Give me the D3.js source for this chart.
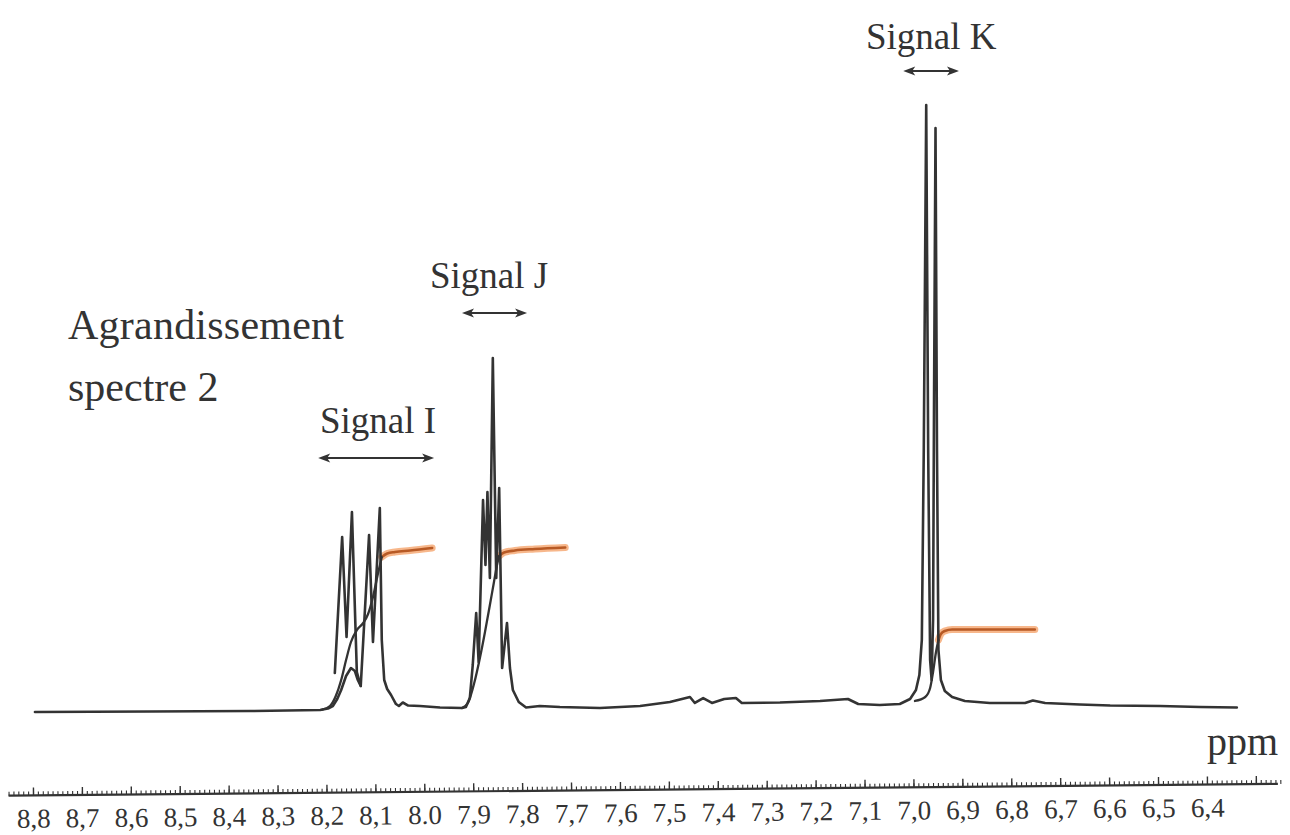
<!DOCTYPE html>
<html><head><meta charset="utf-8">
<script src="https://cdn.jsdelivr.net/npm/d3@7"></script>
<style>html,body{margin:0;padding:0;background:#fff;} svg{display:block;}</style>
</head><body>
<svg id="c" width="1290" height="835"></svg>
<script>
// ---- data (ppm, relative intensity) ----
const spectrumPpm = [8.796,8.561,8.356,8.213,8.197,8.187,8.178,8.170,8.160,8.150,8.142,8.136,8.130,8.113,8.105,8.091,8.087,8.082,8.076,8.068,8.058,8.052,8.044,8.033,8.009,7.968,7.923,
 7.915,7.907,7.901,7.894,7.889,7.880,7.875,7.871,7.866,7.860,7.853,7.847,7.841,7.831,7.825,7.819,7.807,7.792,7.764,7.723,7.641,7.559,7.498,7.457,7.447,7.430,7.412,7.387,7.363,7.351,7.273,7.191,7.134,7.113,7.069,7.028,7.007,6.995,6.988,6.983,6.979,6.974,6.970,6.966,6.963,6.960,6.958,6.955,6.952,6.949,6.944,6.936,6.921,6.895,6.844,6.772,6.756,6.731,6.660,6.598,6.496,6.414,6.339];
const spectrumInt = [-0.33,-0.25,-0.17,0,0.25,0.66,1.82,3.31,5.62,6.94,6.45,4.96,3.97,28.93,11.24,33.39,11.57,4.96,3.47,2.48,0.99,0.66,1.24,0.74,0.66,0.41,0.33,
 0.5,1.98,7.44,16.03,7.93,34.71,23.97,36.03,21.82,58.18,21.82,36.69,6.94,14.38,6.94,3.31,1.32,0.41,0.66,0.5,0.33,0.66,1.32,2.15,1.16,1.98,1.16,1.82,1.98,1.16,1.24,1.49,1.82,0.99,0.83,0.99,1.82,3.31,5.79,11.57,42.98,100,42.98,8.26,4.96,14.88,51.24,96.2,42.98,9.92,4.96,3.14,2.15,1.49,1.16,1.16,1.57,1.16,0.91,0.74,0.66,0.5,0.41];
// overlaid pen stroke of the first multiplet (signal I)
const overlayPpm = [8.183,8.168,8.159,8.148,8.138,8.130];
const overlayInt = [6.12,28.6,12.07,32.73,6.28,3.97];
// integration curves: black rising part, then orange plateau
const integIPpm = [8.209,8.193,8.181,8.170,8.160,8.150,8.138,8.125,8.115,8.105,8.095,8.087];
const integIVal = [0.08,0.66,2.31,4.96,8.26,11.24,13.22,14.38,15.87,18.68,22.48,25.29];
const plateauIPpm = [8.087,8.076,8.060,8.029,7.984];
const plateauIVal = [25.29,25.87,26.12,26.36,26.78];
const integJPpm = [7.923,7.911,7.898,7.886,7.876,7.866,7.858,7.851,7.847];
const integJVal = [0.33,1.16,4.46,8.76,12.89,17.36,20.99,24.13,25.45];
const plateauJPpm = [7.847,7.837,7.815,7.774,7.712];
const plateauJVal = [25.45,26.03,26.36,26.61,26.86];
const integKPpm = [6.997,6.976,6.966,6.960,6.954,6.949];
const integKVal = [1.49,2.15,3.64,6.28,9.59,11.57];
const plateauKPpm = [6.949,6.944,6.936,6.921,6.823,6.752];
const plateauKVal = [11.57,12.56,13.06,13.31,13.31,13.31];
// axis
const majorTicks = [8.8,8.7,8.6,8.5,8.4,8.3,8.2,8.1,8.0,7.9,7.8,7.7,7.6,7.5,7.4,7.3,7.2,7.1,7.0,6.9,6.8,6.7,6.6,6.5,6.4,6.3];
const tickLabels = ["8,8","8,7","8,6","8,5","8,4","8,3","8,2","8,1","8.0","7,9","7,8","7,7","7,6","7,5","7,4","7,3","7,2","7,1","7,0","6,9","6,8","6,7","6,6","6,5","6,4",""];
const axisStart = 8.85, axisEnd = 6.255;
// annotations
const signalNames = ["Signal I","Signal J","Signal K"];
const signalSpans = [[8.217,7.980],[7.923,7.790],[7.021,6.907]];
const titleLines = ["Agrandissement","spectre 2"];
const unitLabel = "ppm";

// ---- drawing ----
const svg = d3.select("#c");
const FONT = "'Liberation Serif','Times New Roman','DejaVu Serif',serif";
const INK = "#333333";
const x = d3.scaleLinear().domain([8.8, 6.4]).range([33, 1207]);
const y = d3.scaleLinear().domain([0, 100]).range([710, 105]);
const zip = (a, b) => a.map((v, i) => [v, b[i]]);
const line = d3.line().x(d => x(d[0])).y(d => y(d[1]));
const smooth = d3.line().x(d => x(d[0])).y(d => y(d[1])).curve(d3.curveMonotoneX);

// orange plateaus (halo + core)
[[plateauIPpm,plateauIVal],[plateauJPpm,plateauJVal],[plateauKPpm,plateauKVal]].forEach(([p,v]) => {
  svg.append("path").attr("d", smooth(zip(p,v))).attr("fill","none")
    .attr("stroke","#f5a56e").attr("stroke-width",7).attr("stroke-linecap","round").attr("opacity",0.8);
  svg.append("path").attr("d", smooth(zip(p,v))).attr("fill","none")
    .attr("stroke","#b85a25").attr("stroke-width",2.6).attr("stroke-linecap","round");
});
// integral rising parts
[[integIPpm,integIVal],[integJPpm,integJVal],[integKPpm,integKVal]].forEach(([p,v]) => {
  svg.append("path").attr("d", smooth(zip(p,v))).attr("fill","none")
    .attr("stroke",INK).attr("stroke-width",2.3).attr("stroke-linecap","round");
});
// spectrum
svg.append("path").attr("d", line(zip(spectrumPpm, spectrumInt))).attr("fill","none")
  .attr("stroke",INK).attr("stroke-width",2.6).attr("stroke-linejoin","round").attr("stroke-linecap","round");
svg.append("path").attr("d", line(zip(overlayPpm, overlayInt))).attr("fill","none")
  .attr("stroke",INK).attr("stroke-width",2.6).attr("stroke-linejoin","round").attr("stroke-linecap","round");

// axis (the scanned ruler is slightly tilted)
const ax = svg.append("g").attr("transform","rotate(-0.53,620,790)");
const axG = ax.append("g").attr("transform","translate(0,790)");
const minorTicks = d3.range(0, Math.round((axisStart-axisEnd)*100)+1).map(i => +(axisStart - i*0.01).toFixed(2));
axG.append("g").call(d3.axisBottom(x).tickValues(minorTicks).tickSizeInner(-4).tickSizeOuter(0).tickFormat(""))
  .call(g => g.select(".domain").remove())
  .call(g => g.selectAll("line").attr("stroke",INK).attr("stroke-width",1.1));
axG.append("g").call(d3.axisBottom(x).tickValues(majorTicks).tickSizeInner(-8).tickSizeOuter(0).tickPadding(13)
    .tickFormat((d,i) => tickLabels[i]))
  .call(g => g.select(".domain").remove())
  .call(g => g.selectAll("line").attr("stroke",INK).attr("stroke-width",1.4))
  .call(g => g.selectAll("text").attr("font-family",FONT).attr("font-size",27).attr("fill",INK));
axG.append("line").attr("x1", x(axisStart)).attr("x2", x(axisEnd)).attr("y1",0).attr("y2",0)
  .attr("stroke",INK).attr("stroke-width",2.2);

// texts
svg.append("text").attr("x",1278).attr("y",755).attr("text-anchor","end")
  .attr("font-family",FONT).attr("font-size",40).attr("fill",INK).text(unitLabel);
svg.append("text").attr("x",68).attr("y",339).attr("font-family",FONT).attr("font-size",42)
  .attr("fill",INK).attr("textLength",276).text(titleLines[0]);
svg.append("text").attr("x",68).attr("y",401).attr("font-family",FONT).attr("font-size",42)
  .attr("fill",INK).text(titleLines[1]);

const labelPos = [[320,433,458],[430,288,313],[866,49,71]];
function arrow(x1, x2, yy) {
  const g = svg.append("g");
  g.append("line").attr("x1",x1+4).attr("x2",x2-4).attr("y1",yy).attr("y2",yy)
    .attr("stroke",INK).attr("stroke-width",1.8);
  g.append("path").attr("d",`M${x1},${yy} L${x1+12},${yy-4.5} L${x1+9},${yy} L${x1+12},${yy+4.5} Z`).attr("fill",INK);
  g.append("path").attr("d",`M${x2},${yy} L${x2-12},${yy-4.5} L${x2-9},${yy} L${x2-12},${yy+4.5} Z`).attr("fill",INK);
}
signalNames.forEach((name, i) => {
  svg.append("text").attr("x",labelPos[i][0]).attr("y",labelPos[i][1])
    .attr("font-family",FONT).attr("font-size",37).attr("fill",INK).text(name);
  arrow(x(signalSpans[i][0]), x(signalSpans[i][1]), labelPos[i][2]);
});
</script>
</body></html>
